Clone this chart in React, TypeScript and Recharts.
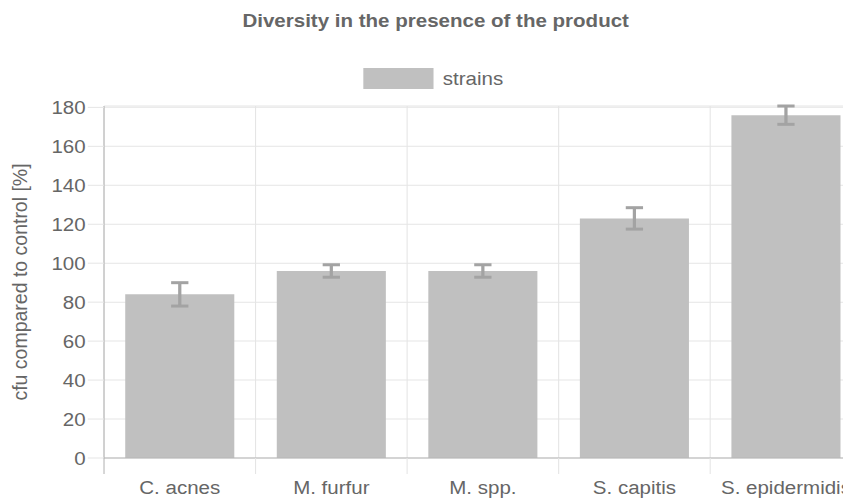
import { Bar, BarChart, CartesianGrid, ErrorBar, Legend, XAxis, YAxis } from "recharts";

const strains = ["C. acnes", "M. furfur", "M. spp.", "S. capitis", "S. epidermidis"];
const cfu = [84, 96, 96, 123, 176];
const cfuError = [6, 3.2, 3.2, 5.5, 4.7];
const yTicks = [0, 20, 40, 60, 80, 100, 120, 140, 160, 180];

const data = strains.map((name, i) => ({ name, value: cfu[i], err: cfuError[i] }));

const CHART_W = 792;
const CHART_H = 492;
const Y_AXIS_W = 88.9;
const MARGIN = { top: 98, right: 1.5, bottom: 0, left: 0 };
const TICK_SIZE = 16;
const TICK_MARGIN = 7;

const TEXT = "#666";
const GRID = "#e5e5e5";
const AXIS = "#b5b5b5";
const BAR = "#c0c0c0";
const ERR = "#a3a3a3";

// x ticks: label in the middle, tick mark on the category boundary
const XTick = (props: any) => {
    const { x, y, payload, index } = props;
    const count = props.visibleTicksCount || strains.length;
    const plotW = props.width || CHART_W - MARGIN.left - MARGIN.right - Y_AXIS_W;
    const half = plotW / count / 2;
    return (
        <g>
            <line x1={x - half} x2={x - half} y1={y - TICK_MARGIN - TICK_SIZE} y2={y - TICK_MARGIN}
                stroke={index === 0 ? AXIS : GRID} />
            <text x={x} y={y} dy="0.71em" textAnchor="middle" fill={TEXT} fontSize={19}>{payload.value}</text>
        </g>
    );
};

const renderLegend = (props: any) => {
    const { payload } = props;
    return (
        <div style={{ display: "flex", justifyContent: "center", alignItems: "center", height: 21 }}>
            {(payload || []).map((entry: any) => (
                <span key={entry.value} style={{ display: "flex", alignItems: "center" }}>
                    <span style={{ display: "inline-block", width: 65, height: 21, background: entry.color }} />
                    <span style={{ marginLeft: 9, fontSize: 19, color: TEXT, lineHeight: "21px" }}>{entry.value}</span>
                </span>
            ))}
        </div>
    );
};

export default function App() {
    return (
        <div style={{ width: 843, height: CHART_H, overflow: "hidden" }}>
            <div style={{
                position: "relative", width: CHART_W, height: CHART_H,
                transform: "scaleX(1.08)", transformOrigin: "0 0",
                fontFamily: "'Liberation Sans', Arial, sans-serif",
            }}>
                <div style={{
                    position: "absolute", top: 0, left: 0, width: CHART_W, textAlign: "center",
                    fontSize: 19, fontWeight: "bold", color: TEXT, lineHeight: "26px",
                }}>
                    Diversity in the presence of the product
                </div>
                <BarChart width={CHART_W} height={CHART_H} data={data} margin={MARGIN} barCategoryGap="14%">
                    <CartesianGrid stroke={GRID} horizontal={true}
                        verticalCoordinatesGenerator={({ offset }: any) =>
                            strains.map((_, i) => offset.left + (i * offset.width) / strains.length)} />
                    <XAxis dataKey="name" interval={0} height={42} tickLine={false}
                        tickSize={TICK_SIZE} tickMargin={TICK_MARGIN}
                        axisLine={{ stroke: AXIS }} tick={<XTick />} />
                    <YAxis width={Y_AXIS_W} domain={[0, 180]} ticks={yTicks} interval={0}
                        tickSize={15} tickMargin={2}
                        tick={{ fill: TEXT, fontSize: 19 }}
                        tickLine={{ stroke: GRID }} axisLine={{ stroke: AXIS }}
                        label={{
                            value: "cfu compared to control [%]", angle: -90, position: "insideLeft", offset: 11,
                            style: { textAnchor: "middle", fill: TEXT, fontSize: 19.5 },
                        }} />
                    <Legend verticalAlign="middle" align="center" layout="horizontal"
                        wrapperStyle={{ top: 60, left: -2.5, width: CHART_W }} content={renderLegend} />
                    <Bar dataKey="value" name="strains" fill={BAR} isAnimationActive={false}>
                        <ErrorBar dataKey="err" width={8} strokeWidth={3} stroke={ERR} isAnimationActive={false} />
                    </Bar>
                </BarChart>
            </div>
        </div>
    );
}
